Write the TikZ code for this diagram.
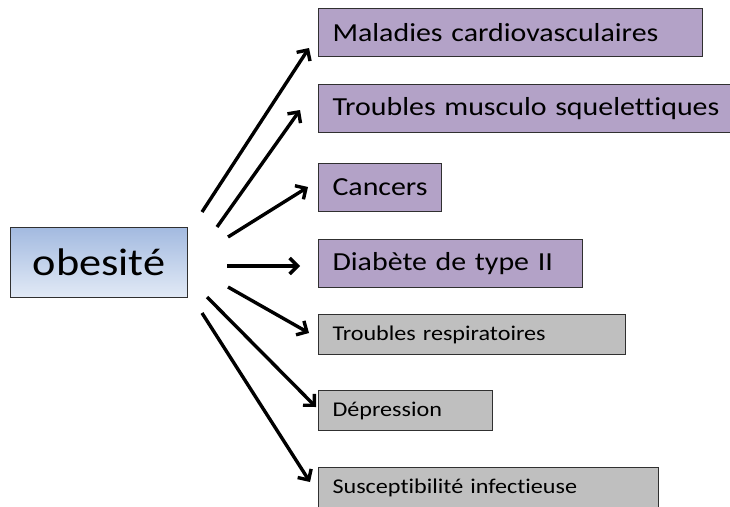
\documentclass[tikz,border=0pt]{standalone}
\usepackage{fontspec}
\setmainfont{Carlito}[FakeStretch=1.15,Ligatures=NoCommon]
\usetikzlibrary{arrows.meta}
\definecolor{lilas}{HTML}{B3A2C7}
\definecolor{gris}{HTML}{BFBFBF}
\definecolor{bleuhaut}{HTML}{A3BAE0}
\definecolor{bleubas}{HTML}{E2EAF6}
\definecolor{bord}{HTML}{303030}

\begin{document}
\begin{tikzpicture}[x=1pt,y=-1pt,
    boite/.style={draw=bord,line width=1pt,anchor=north west,inner xsep=14pt,
      inner ysep=0pt,align=left,text=black},
    grande/.style={boite,fill=lilas,font=\fontsize{26}{28}\selectfont,minimum height=48pt},
    petite/.style={boite,fill=gris,font=\fontsize{21}{23}\selectfont,minimum height=40pt},
    fleche/.style={line width=3.4pt,-{Straight Barb[length=8pt,width=16pt]}}]
  \useasboundingbox (0,0) rectangle (730,506) ;
  \clip (0,0) rectangle (730,506) ;
  % cause
  \node[draw=bord,line width=1pt,top color=bleuhaut,bottom color=bleubas,
    anchor=north west,minimum width=177pt,minimum height=70pt,
    font=\fontsize{38.5}{40}\selectfont] (obesite) at (10,227) {obesit\'e} ;
  % consequences
  \node[grande,text width=356pt] (cardio) at (318,8) {Maladies cardiovasculaires} ;
  \node[grande,text width=389pt] (tms) at (318,84) {Troubles musculo squelettiques} ;
  \node[grande,text width=95pt] (cancers) at (318,163) {Cancers} ;
  \node[grande,text width=236pt] (diabete) at (318,239) {Diab\`ete de type II} ;
  \node[petite,text width=279pt] (respi) at (318,314) {Troubles respiratoires} ;
  \node[petite,text width=146pt] (depression) at (318,390) {D\'epression} ;
  \node[petite,text width=312pt] (infect) at (318,467) {Susceptibilit\'e infectieuse} ;
  % fleches
  \foreach \i/\xa/\ya/\xb/\yb in {1/202/212/309/48, 2/217/227/300/110,
      3/228/237/308/187, 4/227/266/300/266, 5/228/287/309/333,
      6/207/297/316/407, 7/202/313/310/482} {
    \coordinate (d\i) at (\xa,\ya) ;
    \coordinate (f\i) at (\xb,\yb) ;
    \draw[fleche] (d\i) -- (f\i) ;
  }
\end{tikzpicture}
\end{document}
